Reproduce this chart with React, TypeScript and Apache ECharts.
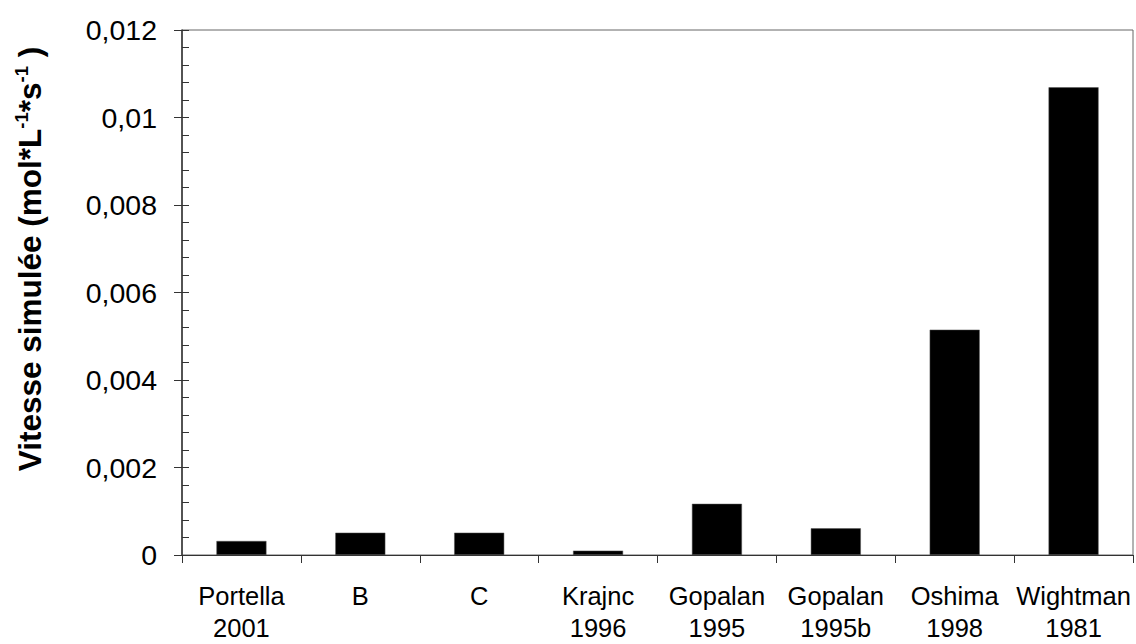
import React, { useEffect, useRef } from "react";
import * as echarts from "echarts";

const categories = [
  "Portella\n2001",
  "B",
  "C",
  "Krajnc\n1996",
  "Gopalan\n1995",
  "Gopalan\n1995b",
  "Oshima\n1998",
  "Wightman\n1981",
];
const values = [0.00032, 0.00051, 0.00051, 0.0001, 0.00117, 0.00061, 0.00515, 0.01069];
const yMin = 0;
const yMax = 0.012;
const yInterval = 0.002;

const fmt = (v: number) => (v === 0 ? "0" : String(+v.toFixed(3)).replace(".", ","));

export default function App() {
  const ref = useRef<HTMLDivElement>(null);
  useEffect(() => {
    if (!ref.current) return;
    const chart = echarts.init(ref.current, null, { renderer: "svg" });
    const font = "Arial, 'Liberation Sans', sans-serif";
    chart.setOption({
      animation: false,
      backgroundColor: "#ffffff",
      grid: {
        left: 182,
        top: 30,
        right: 3,
        bottom: 81,
        show: true,
        borderColor: "#666666",
        borderWidth: 1,
        containLabel: false,
      },
      xAxis: {
        type: "category",
        data: categories,
        axisLine: { show: true, lineStyle: { color: "#333333", width: 1 } },
        axisTick: { show: true, length: 8, lineStyle: { color: "#333333" } },
        axisLabel: {
          color: "#000000",
          fontFamily: font,
          fontSize: 25.5,
          lineHeight: 32,
          margin: 25,
          interval: 0,
        },
        splitLine: { show: false },
      },
      yAxis: [
        {
          type: "value",
          min: yMin,
          max: yMax,
          interval: yInterval,
          position: "left",
          axisLine: { show: true, lineStyle: { color: "#333333", width: 1.5 } },
          axisTick: { show: true, length: 8, lineStyle: { color: "#333333" } },
          axisLabel: {
            color: "#000000",
            fontFamily: font,
            fontSize: 28.5,
            margin: 25,
            formatter: fmt,
          },
          splitLine: { show: false },
        },
        {
          type: "value",
          min: yMin,
          max: yMax,
          interval: yInterval,
          position: "left",
          offset: 0,
          axisLine: { show: false },
          axisTick: { show: true, inside: true, length: 7, lineStyle: { color: "#333333" } },
          minorTick: { show: true, splitNumber: 5, length: 7, lineStyle: { color: "#333333" } },
          axisLabel: { show: false },
          splitLine: { show: false },
        },
      ],
      series: [
        {
          type: "bar",
          data: values,
          yAxisIndex: 0,
          barWidth: 50,
          itemStyle: { color: "#000000", borderColor: "#555555", borderWidth: 0.5 },
        },
      ],
      graphic: [
        {
          type: "text",
          x: 30,
          y: 259,
          rotation: Math.PI / 2,
          style: {
            text: "{a|Vitesse simulée (mol*L}{s|-1}{a|*s}{s|-1}{a| )}",
            align: "center",
            verticalAlign: "middle",
            rich: {
              a: { fontFamily: font, fontSize: 31.5, fontWeight: "bold", fill: "#000", lineHeight: 36 } as any,
              s: { fontFamily: font, fontSize: 18.5, fontWeight: "bold", fill: "#000", verticalAlign: "top", lineHeight: 36 } as any,
            },
          } as any,
        },
      ],
    });
    return () => chart.dispose();
  }, []);
  return (
    <div
      ref={ref}
      style={{ position: "fixed", left: 0, top: 0, width: 1136, height: 644, background: "#fff" }}
    />
  );
}
